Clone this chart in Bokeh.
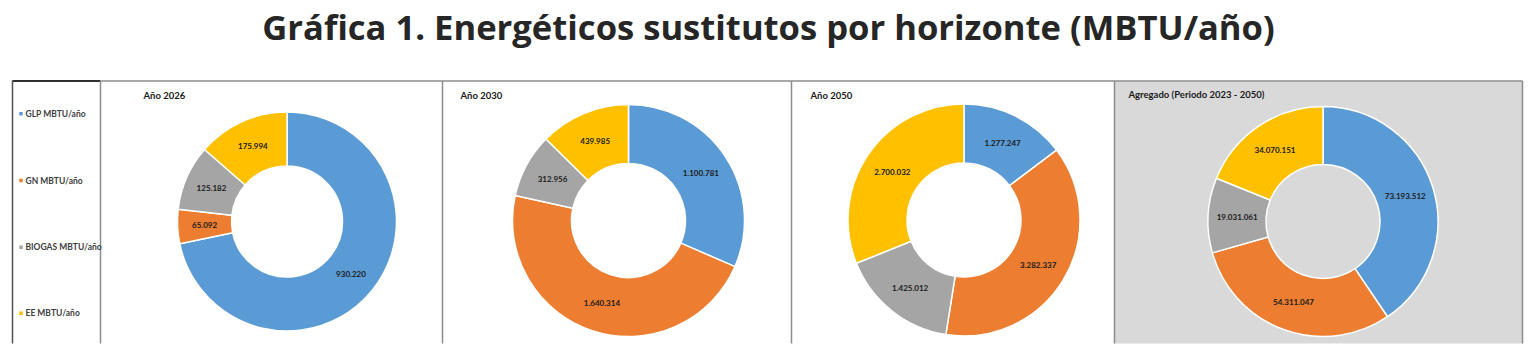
import numpy as np
from bokeh.plotting import figure
from bokeh.models import Range1d, ColumnDataSource
from bokeh.core.properties import value
from bokeh.embed import file_html
from bokeh.resources import INLINE

# ---------------- data ----------------
categories = ["GLP MBTU/año", "GN MBTU/año", "BIOGAS MBTU/año", "EE MBTU/año"]
colors = ["#5B9BD5", "#ED7D31", "#A5A5A5", "#FFC000"]
panel_titles = ["Año 2026", "Año 2030", "Año 2050", "Agregado (Periodo 2023 - 2050)"]
v2026 = [930220, 65092, 125182, 175994]
v2030 = [1100781, 1640314, 312956, 439985]
v2050 = [1277247, 3282337, 1425012, 2700032]
v_agregado = [73193512, 54311047, 19031061, 34070151]
series = [v2026, v2030, v2050, v_agregado]
chart_title = "Gráfica 1. Energéticos sustitutos por horizonte (MBTU/año)"

# ---------------- layout (picture pixel coordinates) ----------------
W, H = 1528, 355
p = figure(width=W, height=H, x_range=Range1d(0, W), y_range=Range1d(-H, 0),
           x_axis_type=None, y_axis_type=None, toolbar_location=None,
           output_backend="svg", min_border=0, outline_line_color=None)
p.background_fill_color = "white"
p.border_fill_color = "white"

FONT = value("Lato")

# title
p.text(x=[768], y=[-26], text=[chart_title], text_font=value("Open Sans"),
       text_font_style="bold", text_font_size="34.6px", text_color="#262626",
       text_align="center", text_baseline="middle")

# panel 4 background
p.quad(left=[1114], right=[1522], top=[-81], bottom=[-343], fill_color="#D9D9D9",
       line_color=None)

# frame lines
p.segment(x0=[12], y0=[-80.5], x1=[100], y1=[-80.5], line_color="#303030", line_width=2)
p.segment(x0=[100], y0=[-80.5], x1=[1522], y1=[-80.5], line_color="#8c8c8c", line_width=1.5)
p.segment(x0=[12], y0=[-80], x1=[12], y1=[-343], line_color="#505050", line_width=1.5)
vx = [100, 442, 791, 1114, 1522]
p.segment(x0=vx, y0=[-80.5] * len(vx), x1=vx, y1=[-343] * len(vx),
          line_color="#8c8c8c", line_width=1.5)

# legend
leg_y = [113.3, 180, 246.7, 312.7]
p.scatter(x=[20.5] * 4, y=[-y for y in leg_y], marker="square", size=3.5,
          fill_color=colors, line_color=None)
p.text(x=[25] * 4, y=[-y for y in leg_y], text=categories, text_font=FONT,
       text_font_style="bold", text_font_size="8.5px", text_color="#404040",
       text_align="left", text_baseline="middle")

# panels: title position, donut centre, radii
title_pos = [(143, 95.3), (460, 95.0), (810, 95.0), (1128, 93.8)]
centers = [(286.5, 221), (628, 220), (963.5, 219.5), (1322.5, 221)]
r_out = [109.5, 116, 116, 115]
r_in = [55.5, 57, 57, 57]


def fmt(v):
    return f"{v:,}".replace(",", ".")


for k, vals in enumerate(series):
    cx, cy = centers[k]
    vals = np.array(vals, dtype=float)
    frac = vals / vals.sum()
    cum = np.concatenate([[0.0], np.cumsum(frac)]) * 2 * np.pi
    mid = (cum[:-1] + cum[1:]) / 2
    rl = (r_in[k] + r_out[k]) / 2
    src = ColumnDataSource(dict(
        start=np.pi / 2 - cum[:-1],
        end=np.pi / 2 - cum[1:],
        color=colors,
        label=[fmt(int(v)) for v in vals],
        lx=cx + rl * np.sin(mid),
        ly=-cy + rl * np.cos(mid),
    ))
    p.annular_wedge(x=cx, y=-cy, inner_radius=r_in[k], outer_radius=r_out[k],
                    start_angle="start", end_angle="end", direction="clock",
                    fill_color="color", line_color="white", line_width=1.5, source=src)
    p.text(x="lx", y="ly", text="label", source=src, text_font=FONT,
           text_font_style="bold", text_font_size="8px", text_color="#1a1a1a",
           text_align="center", text_baseline="middle")
    tx, ty = title_pos[k]
    p.text(x=[tx], y=[-ty], text=[panel_titles[k]], text_font=FONT,
           text_font_style="bold", text_font_size="9.5px", text_color="#1a1a1a",
           text_align="left", text_baseline="middle")

open("out.html", "w").write(file_html(p, INLINE))
